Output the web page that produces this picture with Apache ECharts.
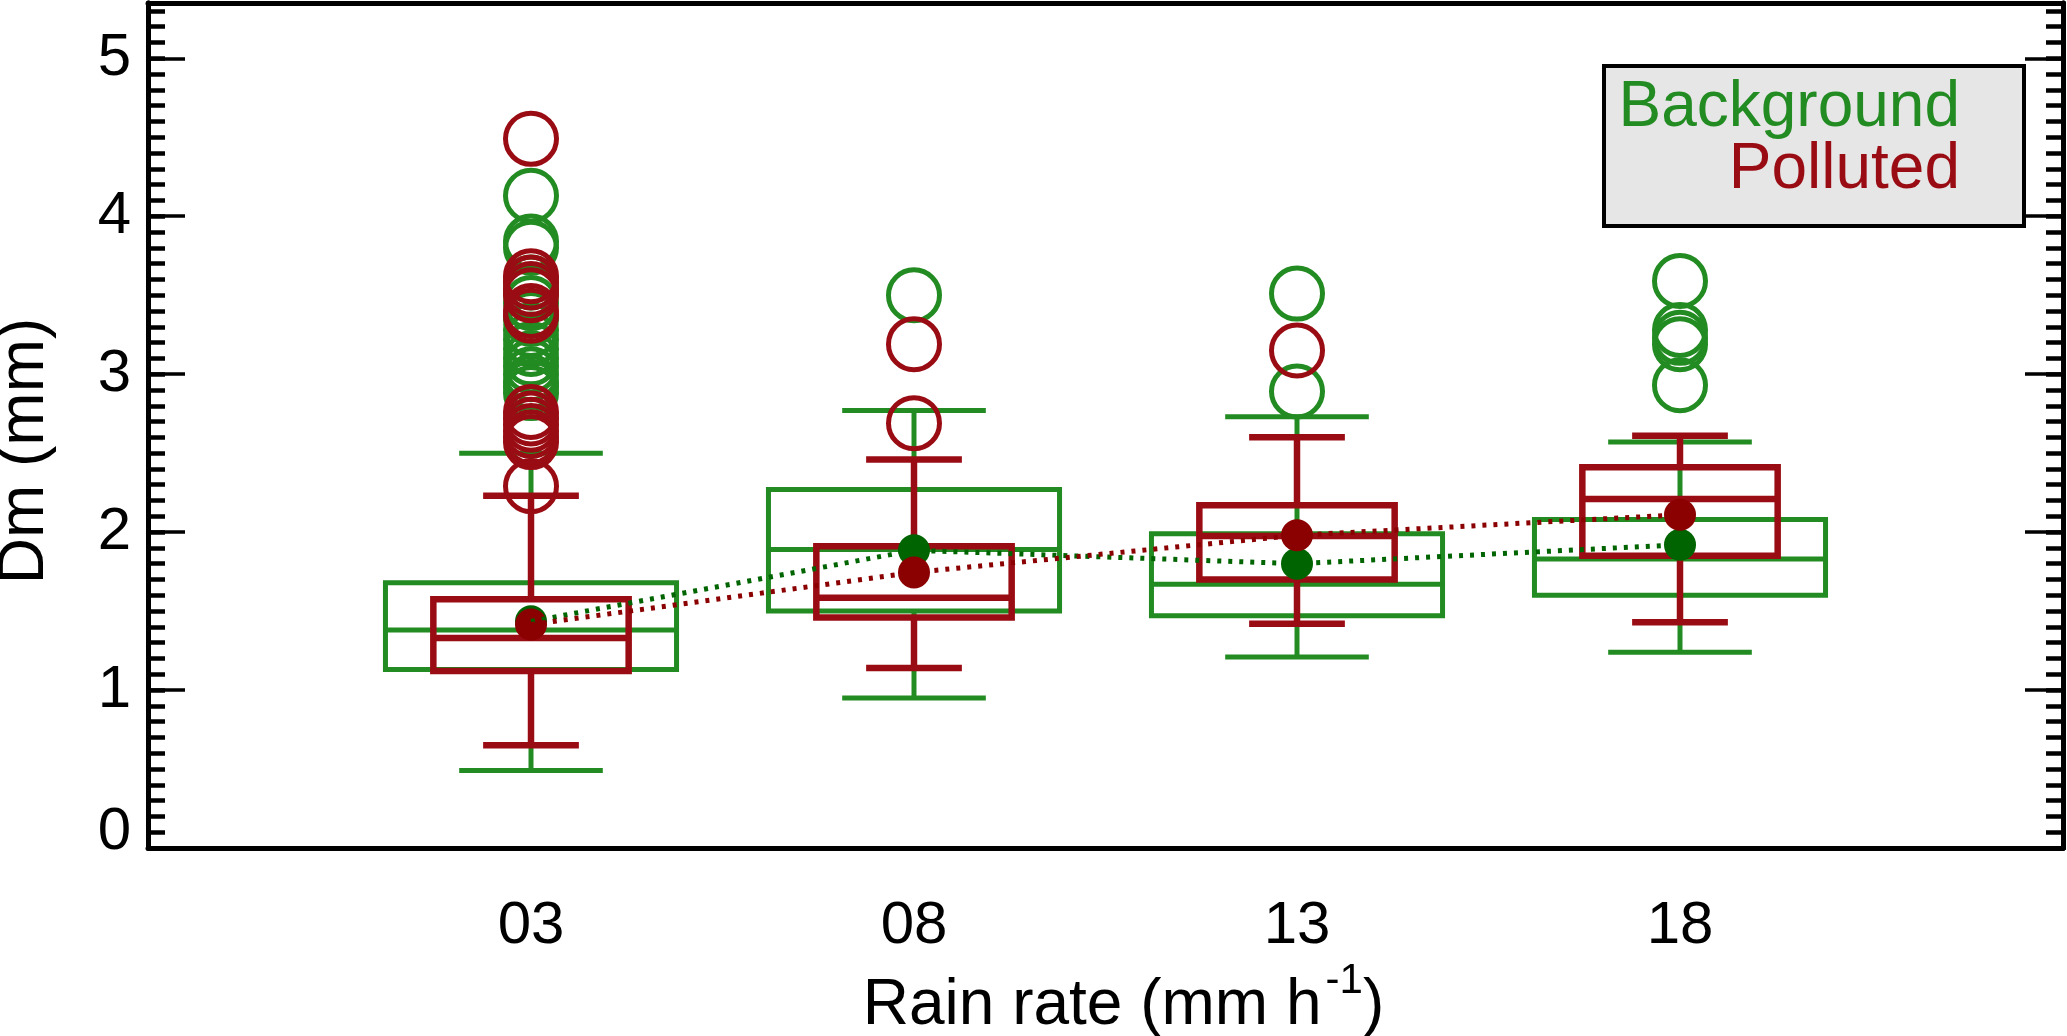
<!DOCTYPE html>
<html><head><meta charset="utf-8">
<script src="https://cdn.jsdelivr.net/npm/echarts@6/dist/echarts.min.js"></script>
<style>html,body{margin:0;padding:0;background:#fff}#c{width:2067px;height:1036px}</style>
</head><body><div id="c"></div>
<script>
// ---- data ----
const rainRateLabels = ['03', '08', '13', '18'];
const xPositions = [1, 2, 3, 4];

// Background (green)
const bgWhiskerLow  = [0.49, 0.95, 1.21, 1.24];
const bgQ1          = [1.13, 1.50, 1.47, 1.60];
const bgMedian      = [1.38, 1.89, 1.67, 1.83];
const bgQ3          = [1.68, 2.27, 1.99, 2.08];
const bgWhiskerHigh = [2.50, 2.77, 2.73, 2.57];
const bgMean        = [1.435, 1.885, 1.80, 1.92];
const bgOutliers03 = [4.13, 3.84, 3.80, 3.58, 3.52, 3.45, 3.35, 3.28, 3.22, 3.16, 3.10, 3.05, 3.00, 2.95, 2.92, 2.88];
const bgOutliers08 = [3.50];
const bgOutliers13 = [3.51, 2.89];
const bgOutliers18 = [3.59, 3.28, 3.23, 3.19, 2.93];

// Polluted (red)
const polWhiskerLow  = [0.65, 1.14, 1.42, 1.43];
const polQ1          = [1.12, 1.46, 1.70, 1.85];
const polMedian      = [1.33, 1.585, 1.975, 2.21];
const polQ3          = [1.575, 1.91, 2.17, 2.41];
const polWhiskerHigh = [2.23, 2.46, 2.60, 2.61];
const polMean        = [1.415, 1.745, 1.98, 2.11];
const polOutliers03 = [4.49, 3.62, 3.58, 3.54, 3.50, 3.40, 3.37, 2.76, 2.72, 2.68, 2.64, 2.60, 2.57, 2.29];
const polOutliers08 = [3.19, 2.69];
const polOutliers13 = [3.15];
const polOutliers18 = [];

const yTickValues = [0, 1, 2, 3, 4, 5];

// ---- styling ----
const FONT = 'Liberation Sans, Arial, Helvetica, sans-serif';
const GREEN = '#228b22', RED = '#9a0c13';
const GREEN_DARK = '#006400', RED_DARK = '#8b0000';

function boxSeries(name, low, q1, med, q3, high, color, boxW, capW, lw) {
  const data = xPositions.map((x, i) => [x, low[i], q1[i], med[i], q3[i], high[i]]);
  return {
    type: 'custom', name, xAxisIndex: 0, yAxisIndex: 1, data,
    encode: { x: 0, y: [1, 2, 3, 4, 5] },
    renderItem(params, api) {
      const x = api.value(0);
      const pLow = api.coord([x, api.value(1)]);
      const pQ1 = api.coord([x, api.value(2)]);
      const pMed = api.coord([x, api.value(3)]);
      const pQ3 = api.coord([x, api.value(4)]);
      const pHigh = api.coord([x, api.value(5)]);
      const cx = pQ1[0];
      const half = api.size([boxW, 0])[0] / 2;
      const capHalf = api.size([capW, 0])[0] / 2;
      const st = { stroke: color, lineWidth: lw, fill: 'none' };
      return { type: 'group', children: [
        { type: 'line', shape: { x1: cx, y1: pQ3[1], x2: cx, y2: pHigh[1] }, style: st },
        { type: 'line', shape: { x1: cx, y1: pQ1[1], x2: cx, y2: pLow[1] }, style: st },
        { type: 'line', shape: { x1: cx - capHalf, y1: pHigh[1], x2: cx + capHalf, y2: pHigh[1] }, style: st },
        { type: 'line', shape: { x1: cx - capHalf, y1: pLow[1], x2: cx + capHalf, y2: pLow[1] }, style: st },
        { type: 'rect', shape: { x: cx - half, y: pQ3[1], width: 2 * half, height: pQ1[1] - pQ3[1] }, style: st },
        { type: 'line', shape: { x1: cx - half, y1: pMed[1], x2: cx + half, y2: pMed[1] }, style: st }
      ]};
    }
  };
}

function outlierData(lists) {
  const out = [];
  lists.forEach((arr, i) => arr.forEach(v => out.push([xPositions[i], v])));
  return out;
}

function outlierSeries(name, data, color) {
  return {
    type: 'scatter', name, xAxisIndex: 0, yAxisIndex: 1, data,
    symbol: 'circle', symbolSize: 51,
    itemStyle: { color: 'rgba(0,0,0,0)', borderColor: color, borderWidth: 5, opacity: 1 },
    emphasis: { disabled: true }
  };
}

const chart = echarts.init(document.getElementById('c'));

const axisLineStyle = { show: true, onZero: false, lineStyle: { color: '#000', width: 5 } };
const yBase = { type: 'value', min: 0, max: 5.35, splitLine: { show: false } };

chart.setOption({
  animation: false,
  backgroundColor: '#fff',
  grid: { left: 148, right: 4, top: 3, bottom: 188, containLabel: false, outerBoundsMode: 'none' },
  xAxis: [
    {
      type: 'value', min: 0, max: 5, interval: 1, position: 'bottom',
      axisLine: axisLineStyle,
      axisTick: { show: false }, splitLine: { show: false },
      axisLabel: {
        fontSize: 60, color: '#000', fontFamily: FONT, margin: 48,
        formatter: v => { const i = xPositions.indexOf(v); return i >= 0 ? rainRateLabels[i] : ''; }
      },
      name: '{n|Rain rate (mm h}{s|-1}{n|)}',
      nameLocation: 'middle', nameGap: 118,
      nameTextStyle: {
        padding: [0, 0, 0, 36],
        rich: {
          n: { fontSize: 64, fontFamily: FONT, color: '#000', lineHeight: 64 },
          s: { fontSize: 42, fontFamily: FONT, color: '#000', lineHeight: 42, padding: [0, 0, 48, 4] }
        }
      }
    },
    {
      type: 'value', min: 0, max: 5, position: 'top',
      axisLine: axisLineStyle,
      axisTick: { show: false }, axisLabel: { show: false }, splitLine: { show: false }
    }
  ],
  yAxis: [
    Object.assign({}, yBase, {
      position: 'left', interval: 0.1,
      axisLine: axisLineStyle,
      axisTick: { show: true, inside: true, length: 17, lineStyle: { color: '#000', width: 4.5 } },
      axisLabel: { show: false }
    }),
    Object.assign({}, yBase, {
      position: 'left', interval: 1,
      axisLine: axisLineStyle,
      axisTick: { show: true, inside: true, length: 37, lineStyle: { color: '#000', width: 3.5 } },
      axisLabel: {
        show: true, inside: false,
        fontSize: 60, color: '#000', fontFamily: FONT, margin: 17,
        formatter: v => {
          const idx = yTickValues.indexOf(Math.round(v * 1000) / 1000);
          if (idx < 0) return '';
          return idx === 0 ? '{z|' + yTickValues[idx] + '}' : String(yTickValues[idx]);
        },
        rich: { z: { fontSize: 60, fontFamily: FONT, color: '#000', padding: [0, 0, 31, 0] } }
      }
    }),
    Object.assign({}, yBase, {
      position: 'right', interval: 0.1,
      axisLine: axisLineStyle,
      axisTick: { show: true, inside: true, length: 17, lineStyle: { color: '#000', width: 4.5 } },
      axisLabel: { show: false }
    }),
    Object.assign({}, yBase, {
      position: 'right', interval: 1,
      axisLine: axisLineStyle,
      axisTick: { show: true, inside: true, length: 38, lineStyle: { color: '#000', width: 3.5 } },
      axisLabel: { show: false }
    })
  ],
  series: [
    boxSeries('Background', bgWhiskerLow, bgQ1, bgMedian, bgQ3, bgWhiskerHigh, GREEN, 0.76, 0.375, 5),
    outlierSeries('Background outliers', outlierData([bgOutliers03, bgOutliers08, bgOutliers13, bgOutliers18]), GREEN),
    boxSeries('Polluted', polWhiskerLow, polQ1, polMedian, polQ3, polWhiskerHigh, RED, 0.51, 0.25, 6.5),
    outlierSeries('Polluted outliers', outlierData([polOutliers03, polOutliers08, polOutliers13, polOutliers18]), RED),
    {
      type: 'line', name: 'Background mean', xAxisIndex: 0, yAxisIndex: 1,
      data: xPositions.map((x, i) => [x, bgMean[i]]), symbol: 'none',
      lineStyle: { color: GREEN_DARK, width: 5, type: [4, 7] }
    },
    {
      type: 'line', name: 'Polluted mean', xAxisIndex: 0, yAxisIndex: 1,
      data: xPositions.map((x, i) => [x, polMean[i]]), symbol: 'none',
      lineStyle: { color: RED_DARK, width: 5, type: [4, 7] }
    },
    {
      type: 'scatter', name: 'Background mean dots', xAxisIndex: 0, yAxisIndex: 1,
      data: xPositions.map((x, i) => [x, bgMean[i]]), symbol: 'circle', symbolSize: 32,
      itemStyle: { color: GREEN_DARK, opacity: 1 }
    },
    {
      type: 'scatter', name: 'Polluted mean dots', xAxisIndex: 0, yAxisIndex: 1,
      data: xPositions.map((x, i) => [x, polMean[i]]), symbol: 'circle', symbolSize: 32,
      itemStyle: { color: RED_DARK, opacity: 1 }
    }
  ],
  graphic: [
    {
      type: 'text', x: 25, y: 451, rotation: Math.PI / 2,
      style: { text: 'Dm (mm)', fontSize: 64, fontFamily: FONT, fill: '#000', align: 'center', verticalAlign: 'middle' }
    },
    {
      type: 'rect', shape: { x: 1604, y: 66, width: 420, height: 160 },
      style: { fill: '#e6e6e6', stroke: '#000', lineWidth: 4 }, z: 100
    },
    {
      type: 'text', x: 1960, y: 108, z: 101,
      style: { text: 'Background', fontSize: 64, fontFamily: FONT, fill: GREEN, align: 'right', verticalAlign: 'middle' }
    },
    {
      type: 'text', x: 1960, y: 170, z: 101,
      style: { text: 'Polluted', fontSize: 64, fontFamily: FONT, fill: RED, align: 'right', verticalAlign: 'middle' }
    }
  ]
});
</script>
</body></html>
